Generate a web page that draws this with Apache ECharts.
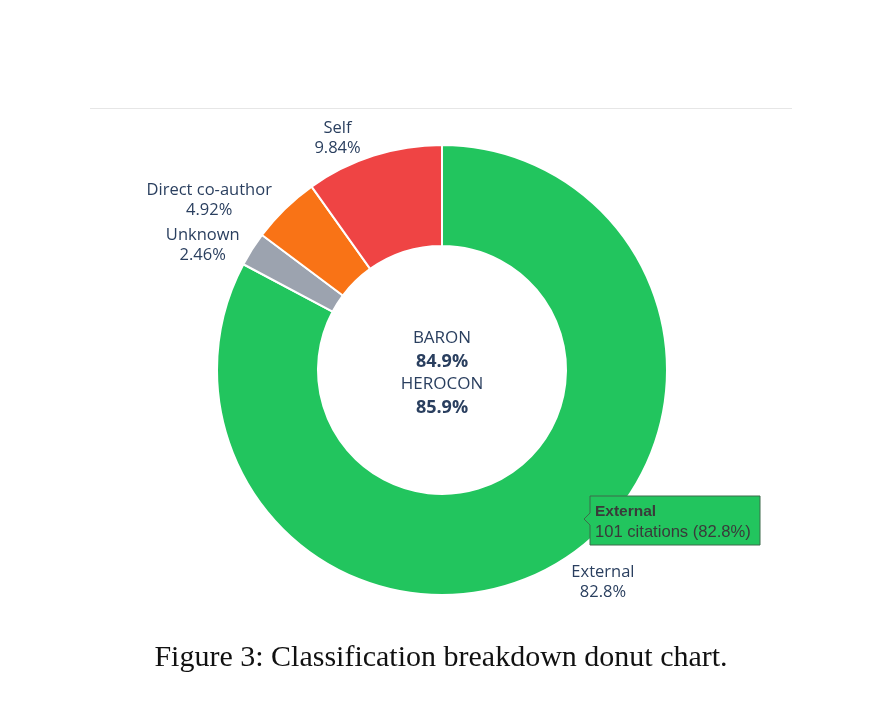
<!DOCTYPE html>
<html><head><meta charset="utf-8">
<script src="https://cdn.jsdelivr.net/npm/echarts@6/dist/echarts.min.js"></script>
<style>html,body{margin:0;padding:0;background:#fff}#c{width:882px;height:712px}</style>
</head><body><div id="c"></div>
<script>
var categories = ['External', 'Unknown', 'Direct co-author', 'Self'];
var citations = [101, 3, 6, 12];
var colors = ['#22c55e', '#9ca3af', '#f97316', '#ef4444'];
var centerLines = ['BARON', '84.9%', 'HEROCON', '85.9%'];
var caption = 'Figure 3: Classification breakdown donut chart.';

var CX = 442, CY = 370, R = 225, RIN = 124;
var total = citations.reduce(function(a,b){return a+b;},0);
function pct(v){ return (v/total*100).toPrecision(3); }

var cum = [], s = 0;
citations.forEach(function(v){ cum.push(s + v/2); s += v; });

var chart = echarts.init(document.getElementById('c'), null, {renderer:'canvas'});
chart.setOption({
  animation: false,
  backgroundColor: '#fff',
  series: [{
    type: 'pie',
    center: [CX, CY],
    radius: [RIN, R],
    startAngle: 90,
    clockwise: true,
    avoidLabelOverlap: false,
    itemStyle: { borderColor: '#fff', borderWidth: 2 },
    label: {
      show: true, position: 'outside',
      fontFamily: 'Open Sans', fontSize: 16.5, color: '#2a3f5f', lineHeight: 20,
      align: 'center',
      formatter: function(p){ return p.name + '\n' + pct(p.value) + '%'; }
    },
    labelLine: { show: false, length: 0, length2: 0 },
    labelLayout: function(p){
      var i = p.dataIndex;
      var a = cum[i]/total*2*Math.PI;
      var sx = Math.sin(a), cy = -Math.cos(a);
      var px = CX + (R+3)*sx, py = CY + (R+3)*cy;
      var w = p.labelRect.width, h = p.labelRect.height;
      var x = px + (sx>=0?1:-1)*w/2;
      var y = py + (cy>=0?1:-1)*h/2;
      if (categories[i] === 'Self') { x -= 12; y += 5; }
      if (categories[i] === 'Direct co-author') { x -= 11; y += 14; }
      if (categories[i] === 'Unknown') { x -= 10; y += 18; }
      if (categories[i] === 'External') { x += 12; y -= 3; }
      return { x: x, y: y, align: 'center', verticalAlign: 'middle' };
    },
    data: categories.map(function(n,i){ return {name:n, value:citations[i], itemStyle:{color:colors[i]}}; })
  }],
  graphic: [
    { type:'line', z:100, shape:{x1:90,y1:108.5,x2:792,y2:108.5}, style:{stroke:'#e6e6e6', lineWidth:1} },
    { type:'text', z:100, x:CX, y:CY+3, style:{
        text: '{n|'+centerLines[0]+'}\n{b|'+centerLines[1]+'}\n{n|'+centerLines[2]+'}\n{b|'+centerLines[3]+'}',
        align:'center', verticalAlign:'middle',
        rich:{
          n:{fontFamily:'Open Sans', fontSize:17, fill:'#2a3f5f', lineHeight:23, align:'center'},
          b:{fontFamily:'Open Sans', fontSize:18, fontWeight:'bold', fill:'#2a3f5f', lineHeight:23, align:'center'}
        } } },
    { type:'group', z:100, x:590, y:496, children:[
      { type:'polygon', z:100, shape:{points:[[0,0],[170,0],[170,49],[0,49],[0,29],[-6,23],[0,17]]},
        style:{fill:colors[0], stroke:'#3d6b4a', lineWidth:1} },
      { type:'text', z:101, x:5, y:6, style:{
          text:'{t|'+categories[0]+'}\n{v|'+citations[0]+' citations ('+pct(citations[0])+'%)}',
          rich:{
            t:{fontFamily:'Liberation Sans', fontSize:15.5, fontWeight:'bold', fill:'#3a3a3a', lineHeight:20},
            v:{fontFamily:'Liberation Sans', fontSize:16.6, fill:'#3a3a3a', lineHeight:20}
          } } }
    ]},
    { type:'text', z:100, x:441, y:658, style:{ text: caption, align:'center', verticalAlign:'middle',
        fontFamily:'Liberation Serif', fontSize:30, fill:'#111' } }
  ]
});
</script></body></html>
